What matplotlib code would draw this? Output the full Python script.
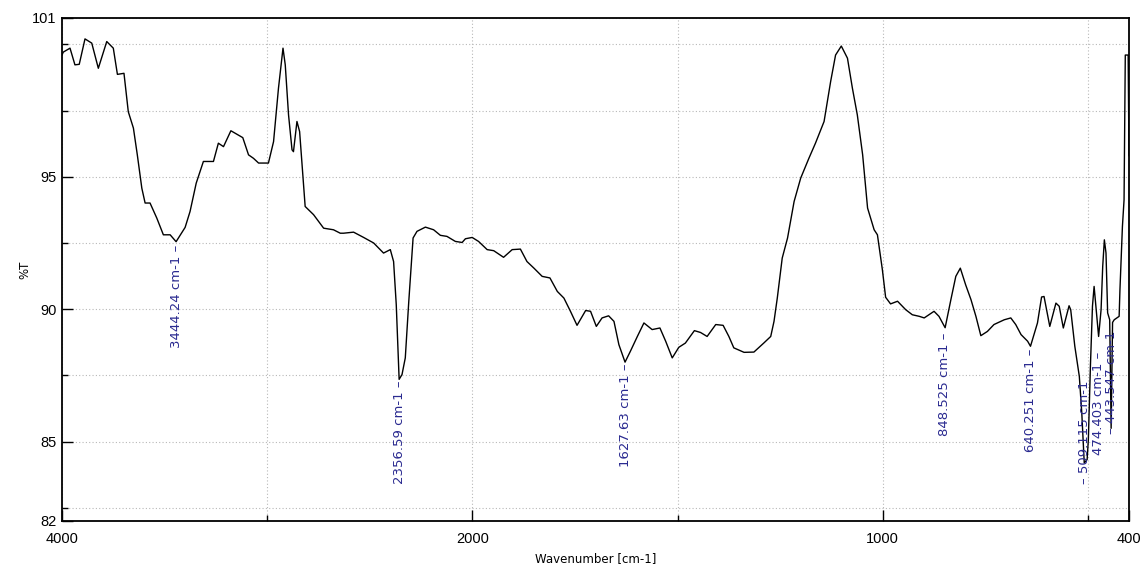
import numpy as np
import matplotlib
matplotlib.use("Agg")
import matplotlib.pyplot as plt
from matplotlib.ticker import FixedLocator, NullFormatter

# ---- spectrum (wavenumber in cm-1, %T) ----
wavenumber = [4000, 3994, 3961, 3937, 3916, 3888, 3855, 3823, 3782, 3750, 3730, 3698,
              3677, 3652, 3633, 3611, 3595, 3571, 3538, 3506, 3473, 3444, 3400, 3376,
              3346, 3311, 3262, 3238, 3213, 3177, 3119, 3091, 3067, 3042, 2994, 2969,
              2945, 2923, 2912, 2896, 2879, 2872, 2855, 2842, 2815, 2774, 2725, 2677,
              2644, 2628, 2579, 2530, 2481, 2433, 2400, 2384, 2371, 2357, 2343, 2327,
              2310, 2289, 2270, 2229, 2189, 2156, 2124, 2083, 2050, 2034, 2001, 1985,
              1964, 1948, 1924, 1903, 1883, 1867, 1850, 1830, 1811, 1793, 1777, 1761,
              1745, 1724, 1712, 1698, 1684, 1668, 1655, 1643, 1628, 1615, 1598, 1582,
              1562, 1543, 1529, 1513, 1497, 1481, 1459, 1444, 1428, 1407, 1389, 1375,
              1363, 1338, 1314, 1290, 1273, 1265, 1257, 1245, 1232, 1216, 1200, 1180,
              1164, 1143, 1127, 1115, 1101, 1086, 1074, 1062, 1049, 1037, 1021, 1013,
              1001, 993, 981, 964, 944, 928, 911, 899, 875, 863, 848, 834,
              822, 811, 798, 785, 773, 761, 745, 729, 704, 688, 676, 663,
              647, 640, 623, 613, 607, 593, 578, 570, 560, 546, 542, 532,
              521, 515, 509, 502, 499, 494, 489, 485, 480, 474, 468, 464,
              460, 456, 452, 447, 443.5, 440, 436, 424, 422, 416, 412, 409,
              402, 400]
transmittance = [99.6, 99.71, 99.86, 99.23, 99.25, 100.21, 100.05, 99.10, 100.11, 99.86, 98.87, 98.91,
                 97.46, 96.84, 95.83, 94.57, 94.01, 94.01, 93.44, 92.81, 92.81, 92.55, 93.09, 93.69,
                 94.76, 95.58, 95.58, 96.27, 96.14, 96.74, 96.48, 95.83, 95.70, 95.52, 95.52, 96.33,
                 98.35, 99.86, 99.23, 97.34, 96.02, 95.95, 97.09, 96.71, 93.88, 93.57, 93.06, 93.0,
                 92.87, 92.87, 92.91, 92.71, 92.50, 92.12, 92.25, 91.80, 90.17, 87.35, 87.53, 88.16,
                 90.29, 92.69, 92.94, 93.10, 93.0, 92.79, 92.75, 92.56, 92.52, 92.66, 92.71, 92.56,
                 92.25, 92.21, 91.96, 92.25, 92.27, 91.80, 91.55, 91.24, 91.18, 90.67, 90.42, 89.92,
                 89.39, 89.95, 89.92, 89.35, 89.67, 89.75, 89.54, 88.66, 88.0, 88.41, 88.97, 89.48,
                 89.23, 89.29, 88.79, 88.16, 88.56, 88.72, 89.19, 89.12, 88.97, 89.42, 89.39, 88.97,
                 88.54, 88.37, 88.38, 88.72, 88.97, 89.54, 90.42, 91.93, 92.69, 94.07, 94.95, 95.70,
                 96.27, 97.09, 98.60, 99.60, 99.94, 99.48, 98.35, 97.34, 95.83, 93.82, 93.0, 92.81,
                 91.5, 90.45, 90.2, 90.3, 89.98, 89.79, 89.73, 89.67, 89.92, 89.73, 89.3, 90.36,
                 91.24, 91.55, 90.92, 90.36, 89.73, 89.0, 89.16, 89.42, 89.60, 89.67, 89.42, 89.04,
                 88.79, 88.6, 89.48, 90.46, 90.48, 89.35, 90.23, 90.11, 89.29, 90.13, 89.98, 88.60,
                 87.46, 86.08, 84.19, 84.32, 85.08, 87.84, 90.11, 90.86, 89.98, 88.97, 89.98, 91.62,
                 92.62, 92.12, 89.86, 89.6, 85.5, 89.5, 89.6, 89.73, 90.74, 93.12, 94.13, 99.6,
                 99.6, 95.8]

# peak picks: position, label text, where the label starts, below/above
peak_pos = [3444.24, 2356.59, 1627.63, 848.525, 640.251, 509.115, 474.403, 443.547]
peak_text = ["3444.24 cm-1", "2356.59 cm-1", "1627.63 cm-1", "848.525 cm-1",
             "640.251 cm-1", "509.115 cm-1", "474.403 cm-1", "443.547 cm-1"]
peak_anchor = [92.45, 87.3, 87.95, 89.1, 88.5, 83.4, 88.4, 85.3]
peak_below = [True, True, True, True, True, False, True, False]

x_major = [4000, 2000, 1000, 400]
x_minor = [3000, 1500, 500]
y_major = [101, 95, 90, 85, 82]
y_minor = [100, 97.5, 92.5, 87.5, 82.5]


# IR convention: above 2000 cm-1 the axis is compressed by 2
def fwd(w):
    w = np.asarray(w, dtype=float)
    return np.where(w > 2000, 2000 + (w - 2000) / 2.0, w)


def inv(u):
    u = np.asarray(u, dtype=float)
    return np.where(u > 2000, 2000 + (u - 2000) * 2.0, u)


fig = plt.figure(figsize=(11.42, 5.69), dpi=100)
ax = fig.add_axes([0.0543, 0.0844, 0.9343, 0.884])
ax.set_xscale("function", functions=(fwd, inv))

ax.plot(wavenumber, transmittance, color="black", lw=1.0)

ax.set_xlim(4000, 400)
ax.set_ylim(82, 101)

ax.xaxis.set_major_locator(FixedLocator(x_major))
ax.xaxis.set_minor_locator(FixedLocator(x_minor))
ax.xaxis.set_minor_formatter(NullFormatter())
ax.set_xticklabels([str(v) for v in x_major])
ax.yaxis.set_major_locator(FixedLocator(y_major))
ax.yaxis.set_minor_locator(FixedLocator(y_minor))
ax.yaxis.set_minor_formatter(NullFormatter())
ax.set_yticklabels([str(v) for v in y_major])

ax.grid(True, which="both", color="#b8b8b8", lw=0.8, ls=(0, (1, 2)))
ax.tick_params(which="both", direction="in", color="black", width=1.0)
ax.tick_params(which="major", length=8, labelsize=10.5)
ax.tick_params(axis="x", which="major", pad=8)
ax.tick_params(axis="y", which="major", pad=4)
ax.tick_params(which="minor", length=4)
for lab in ax.get_xticklabels() + ax.get_yticklabels():
    lab.set_fontfamily("Liberation Sans")
for s in ax.spines.values():
    s.set_linewidth(1.3)

ax.set_xlabel("Wavenumber [cm-1]", fontsize=8.5)
ax.xaxis.set_label_coords(0.5, -0.062)
ax.set_ylabel("%T", fontsize=8.5)
ax.yaxis.set_label_coords(-0.029, 0.5)

for pos, txt, anc, below in zip(peak_pos, peak_text, peak_anchor, peak_below):
    if below:
        ax.text(pos, anc, txt + " \u2013", rotation=90, ha="center", va="top",
                color="#2a2a90", fontsize=9.5)
    else:
        ax.text(pos, anc, "\u2013 " + txt, rotation=90, ha="center", va="bottom",
                color="#2a2a90", fontsize=9.5)

fig.savefig("out.png", dpi=100)
